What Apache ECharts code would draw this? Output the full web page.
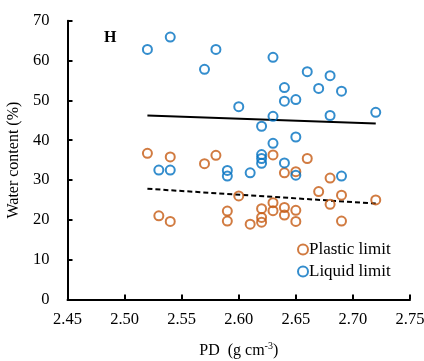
<!DOCTYPE html>
<html>
<head>
<meta charset="utf-8">
<script src="https://cdn.jsdelivr.net/npm/echarts@6/dist/echarts.min.js"></script>
<style>
  html, body { margin: 0; padding: 0; background: #fff; }
  #chart { width: 424px; height: 361px; }
</style>
</head>
<body>
<div id="chart"></div>
<script>
// Particle density (g cm-3) versus Atterberg limits (%)
const plasticPD = [2.52, 2.54, 2.58, 2.57, 2.60, 2.53, 2.54, 2.59, 2.59, 2.63, 2.66, 2.64, 2.65, 2.68, 2.67,
                   2.69, 2.72, 2.68, 2.63, 2.63, 2.64, 2.64, 2.65, 2.65, 2.62, 2.62, 2.62, 2.61, 2.69];
const plasticWC = [36.7, 35.8, 36.2, 34.1, 26.0, 21.0, 19.6, 22.2, 19.7, 36.3, 35.4, 31.8, 32.1, 30.5, 27.1,
                   26.2, 25.0, 23.9, 24.3, 22.3, 23.1, 21.2, 22.4, 19.6, 22.8, 20.6, 19.4, 18.9, 19.7];
const liquidPD = [2.52, 2.54, 2.58, 2.57, 2.60, 2.63, 2.66, 2.68, 2.64, 2.67, 2.69, 2.64, 2.65, 2.63, 2.68,
                  2.72, 2.62, 2.65, 2.63, 2.62, 2.62, 2.62, 2.64, 2.61, 2.65, 2.69, 2.59, 2.59, 2.53, 2.54];
const liquidWC = [62.8, 65.9, 62.8, 57.8, 48.4, 60.8, 57.2, 56.2, 53.2, 53.0, 52.3, 49.8, 50.2, 46.0, 46.2,
                  47.0, 43.5, 40.8, 39.2, 36.4, 35.4, 34.2, 34.3, 31.8, 31.2, 31.0, 32.4, 31.0, 32.5, 32.5];
// Linear trends (end points)
const trendPD = [2.52, 2.72];
const liquidTrend = [46.2, 44.2];
const plasticTrend = [27.8, 24.1];

const xTicks = ['2.45', '2.50', '2.55', '2.60', '2.65', '2.70', '2.75'];

const pair = (xs, ys) => xs.map((x, i) => [x, ys[i]]);

const FONT = '"Liberation Serif", "Times New Roman", serif';
const ORANGE = '#C55A11';
const BLUE = '#0070C0';

const chart = echarts.init(document.getElementById('chart'), null, { renderer: 'canvas' });

const axisCommon = {
  axisLine: { show: true, onZero: false, lineStyle: { color: '#000', width: 2 } },
  axisTick: { show: true, inside: true, length: 5, lineStyle: { color: '#000', width: 2 } },
  splitLine: { show: false },
};

chart.setOption({
  animation: false,
  textStyle: { fontFamily: FONT },
  grid: { left: 67.5, right: 14, top: 20.7, bottom: 61.5, containLabel: false, outerBoundsMode: 'none' },
  xAxis: Object.assign({
    type: 'value',
    min: 2.45,
    max: 2.75,
    interval: 0.05,
    name: 'PD  (g cm{sup|-3})',
    nameLocation: 'middle',
    nameGap: 42,
    nameTextStyle: {
      fontFamily: FONT, fontSize: 16, color: '#000',
      rich: { sup: { fontFamily: FONT, fontSize: 10, color: '#000', verticalAlign: 'top', padding: [0, 0, 8, 0] } }
    },
    axisLabel: {
      margin: 12, color: '#000', fontFamily: FONT, fontSize: 16.5,
      formatter: (v) => xTicks[Math.round((v - 2.45) / 0.05)] || ''
    }
  }, axisCommon),
  yAxis: Object.assign({
    type: 'value',
    min: 0,
    max: 70,
    interval: 10,
    name: 'Water content (%)',
    nameLocation: 'middle',
    nameGap: 41,
    nameTextStyle: { fontFamily: FONT, fontSize: 16, color: '#000' },
    axisLabel: { margin: 18, color: '#000', fontFamily: FONT, fontSize: 16.5 }
  }, axisCommon),
  legend: {
    orient: 'vertical',
    left: 292,
    top: 236,
    itemWidth: 10,
    itemHeight: 10,
    itemGap: 5,
    textStyle: { fontFamily: FONT, fontSize: 17, color: '#000', padding: [0, 0, 0, -4] },
    data: [
      { name: 'Plastic limit', icon: 'circle', itemStyle: { color: 'transparent', borderColor: ORANGE, borderWidth: 2 } },
      { name: 'Liquid limit', icon: 'circle', itemStyle: { color: 'transparent', borderColor: BLUE, borderWidth: 2 } }
    ]
  },
  graphic: [{
    type: 'text',
    left: 104,
    top: 30,
    style: { text: 'H', fontFamily: FONT, fontSize: 16, fontWeight: 'bold', fill: '#000' }
  }],
  series: [
    {
      name: 'Liquid limit trend',
      type: 'line',
      data: pair(trendPD, liquidTrend),
      symbol: 'none',
      lineStyle: { color: '#000', width: 2 },
      z: 1
    },
    {
      name: 'Plastic limit trend',
      type: 'line',
      data: pair(trendPD, plasticTrend),
      symbol: 'none',
      lineStyle: { color: '#000', width: 2, type: [5, 3] },
      z: 1
    },
    {
      name: 'Plastic limit',
      type: 'scatter',
      data: pair(plasticPD, plasticWC),
      symbol: 'circle',
      symbolSize: 9,
      itemStyle: { color: 'transparent', borderColor: ORANGE, borderWidth: 2 },
      z: 3
    },
    {
      name: 'Liquid limit',
      type: 'scatter',
      data: pair(liquidPD, liquidWC),
      symbol: 'circle',
      symbolSize: 9,
      itemStyle: { color: 'transparent', borderColor: BLUE, borderWidth: 2 },
      z: 3
    }
  ]
});
</script>
</body>
</html>
